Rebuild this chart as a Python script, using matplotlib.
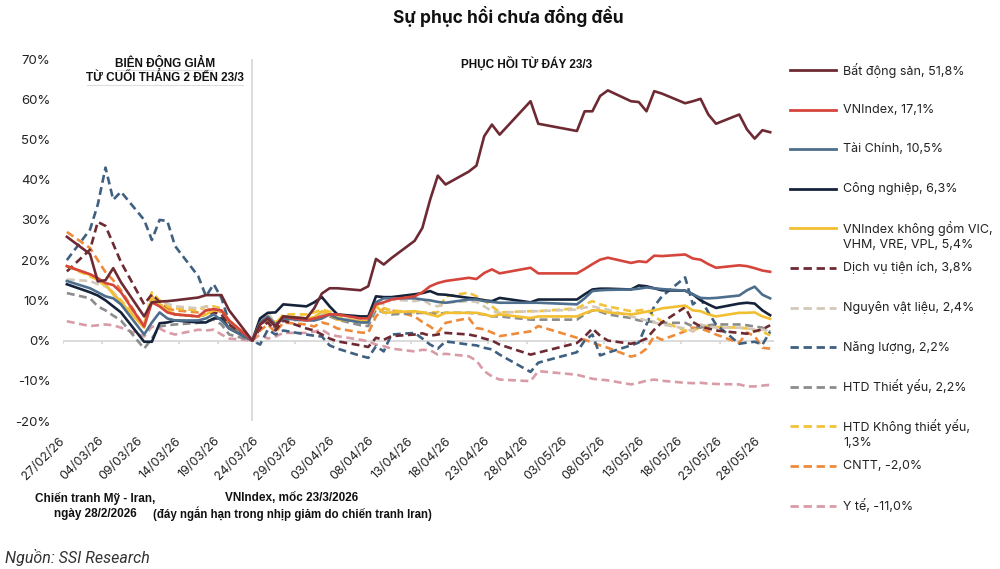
import matplotlib
matplotlib.use("Agg")
import matplotlib.pyplot as plt
import matplotlib.dates as mdates
import pandas as pd

plt.rcParams['font.family'] = ['Inter', 'DejaVu Sans']

# ngày giao dịch (năm 2026)
ngay = ["27/02", "02/03", "03/03", "04/03", "05/03", "06/03", "09/03", "10/03", "11/03", "12/03",
        "13/03", "16/03", "17/03", "18/03", "19/03", "20/03", "23/03",
        "24/03", "25/03", "26/03", "27/03", "30/03", "31/03", "01/04", "02/04", "03/04",
        "06/04", "07/04", "08/04", "09/04", "10/04", "13/04", "14/04", "15/04", "16/04", "17/04",
        "20/04", "21/04", "22/04", "23/04", "24/04", "28/04", "29/04",
        "04/05", "05/05", "06/05", "07/05", "08/05", "11/05", "12/05", "13/05", "14/05", "15/05",
        "18/05", "19/05", "20/05", "21/05", "22/05", "25/05", "26/05", "27/05", "28/05", "29/05"]

# % thay doi so voi moc 23/3/2026
bat_dong_san = [25.8, 21.5, 14.7, 15.0, 18.0, 14.5, 6.0, 9.5, 9.7, 9.8, 10.0, 10.7, 11.3, 11.3, 11.3, 7.5, 0.0,
                4.0, 5.5, 3.5, 6.0, 5.5, 8.0, 11.7, 13.0, 13.0, 12.5, 13.5, 20.3, 18.9, 20.5,
                24.8, 28.0, 35.0, 41.0, 38.8, 42.0, 43.5, 50.8, 53.7, 51.2, 59.5, 53.9,
                52.1, 57.0, 57.0, 60.8, 62.2, 59.5, 59.3, 57.0, 62.0, 61.4,
                59.0, 59.5, 60.1, 56.2, 53.9, 56.2, 52.5, 50.2, 52.3, 51.8]
vnindex = [18.5, 16.5, 15.5, 14.3, 13.8, 12.0, 3.5, 9.5, 8.5, 7.0, 6.5, 6.0, 7.5, 7.8, 7.5, 5.0, 0.0,
           4.0, 5.5, 3.5, 6.0, 5.0, 5.5, 6.0, 6.5, 6.5, 5.5, 5.5, 9.0, 9.5, 10.2,
           11.0, 12.0, 13.5, 14.3, 14.8, 15.6, 15.3, 16.8, 17.7, 16.7, 18.1, 16.7,
           16.7, 17.8, 19.0, 20.1, 20.6, 19.3, 19.7, 19.5, 21.1, 21.0,
           21.4, 20.4, 20.1, 19.0, 18.1, 18.7, 18.5, 18.0, 17.4, 17.1]
tai_chinh = [14.8, 13.0, 12.0, 11.0, 10.5, 9.0, 1.5, 4.5, 7.0, 5.5, 5.0, 5.0, 5.5, 6.5, 5.0, 3.0, 0.0,
             4.5, 6.0, 4.0, 5.5, 5.0, 5.0, 5.5, 6.5, 5.5, 4.5, 4.5, 9.5, 10.5, 10.5,
             10.5, 10.2, 10.0, 9.6, 9.4, 10.2, 10.2, 9.8, 9.6, 9.4, 9.4, 9.4,
             9.0, 10.5, 12.3, 12.5, 12.6, 12.7, 12.9, 13.2, 13.0, 12.8,
             12.4, 11.5, 10.6, 10.5, 10.6, 11.2, 12.5, 13.4, 11.4, 10.5]
cong_nghiep = [14.0, 12.0, 11.2, 10.0, 8.5, 7.0, -0.3, -0.3, 4.3, 4.5, 5.0, 4.5, 4.5, 5.5, 5.5, 3.0, 0.0,
               5.5, 6.9, 7.0, 9.0, 8.5, 9.5, 10.8, 8.5, 6.5, 6.0, 6.0, 11.0, 10.8, 10.8,
               11.5, 11.8, 12.3, 11.5, 11.4, 10.6, 10.4, 10.0, 9.8, 10.6, 9.5, 10.2,
               10.2, 11.5, 12.7, 12.9, 12.9, 12.7, 13.7, 13.5, 13.0, 12.5,
               12.4, 11.5, 10.0, 9.0, 8.1, 9.2, 9.4, 9.2, 7.5, 6.3]
vnindex_ex = [18.5, 16.3, 15.5, 14.0, 11.5, 9.5, 3.2, 10.5, 9.0, 7.5, 6.5, 6.0, 6.5, 7.5, 7.5, 5.0, 0.0,
              4.0, 5.6, 4.5, 6.0, 5.5, 5.8, 7.3, 6.5, 5.2, 4.8, 4.8, 8.5, 6.9, 7.0,
              7.3, 7.0, 6.5, 6.0, 6.9, 6.9, 6.9, 6.5, 6.0, 6.5, 5.6, 6.0,
              6.0, 6.8, 7.5, 7.5, 7.0, 6.5, 6.8, 7.2, 7.5, 8.0,
              8.7, 7.5, 7.3, 6.5, 6.0, 6.9, 6.9, 7.0, 6.0, 5.4]
dv_tien_ich = [17.2, 22.6, 29.5, 28.5, 24.0, 19.5, 9.0, 11.5, 9.5, 7.5, 6.5, 6.0, 6.5, 7.0, 6.5, 4.0, 0.0,
               3.0, 4.5, 2.5, 5.0, 3.0, 2.5, 1.5, 0.5, -0.2, -1.2, -1.6, 0.7, 0.2, 1.1,
               1.5, 1.8, 1.2, 1.5, 1.9, 1.5, 1.1, 0.5, 0.0, -1.0, -3.5, -3.0,
               -0.6, 1.0, 3.0, 1.2, 0.0, -0.8, -0.3, 0.5, 2.7, 4.5,
               8.3, 4.6, 3.5, 3.0, 2.5, 1.9, 1.7, 2.3, 2.8, 3.8]
nguyen_vat_lieu = [15.2, 14.8, 14.0, 13.5, 12.0, 9.5, 3.5, 10.2, 9.5, 9.2, 8.5, 8.0, 8.5, 8.0, 7.5, 4.5, 0.0,
                   5.0, 7.0, 4.0, 6.0, 5.5, 5.0, 6.5, 7.0, 5.5, 5.0, 4.5, 9.5, 9.0, 10.2,
                   9.8, 10.2, 9.0, 8.5, 9.4, 9.8, 9.6, 8.5, 7.3, 6.9, 7.3, 7.3,
                   7.7, 8.2, 8.5, 8.0, 7.7, 6.0, 5.5, 5.0, 4.5, 4.0,
                   3.0, 2.3, 4.0, 3.5, 3.2, 3.2, 3.0, 2.8, 2.7, 2.4]
nang_luong = [20.0, 27.6, 33.8, 43.0, 35.0, 37.0, 30.0, 25.0, 30.0, 29.7, 23.5, 16.0, 11.0, 14.0, 10.6, 4.5, 0.0,
              -1.0, 2.7, 1.5, 2.5, 1.5, 1.2, 1.0, -1.2, -2.0, -3.8, -4.3, -1.4, -2.7, 1.5,
              1.9, 0.5, -1.0, -2.0, -0.2, -1.0, -1.2, -1.8, -2.2, -3.5, -7.8, -5.5,
              -2.9, 0.0, 1.5, -3.7, -3.0, -1.2, -0.5, 4.0, 8.5, 11.0,
              15.7, 9.0, 10.5, 7.0, 4.0, -0.8, -0.5, -0.3, -1.0, 2.2]
htd_thiet_yeu = [11.8, 10.5, 8.5, 7.5, 6.2, 5.0, -2.0, 0.5, 3.5, 3.8, 4.0, 4.4, 4.8, 5.2, 4.0, 1.5, 0.0,
                 4.0, 5.0, 3.0, 5.0, 5.2, 5.5, 6.5, 6.0, 5.2, 3.8, 3.6, 7.7, 7.0, 6.5,
                 6.8, 6.9, 6.7, 6.6, 6.9, 6.9, 6.7, 6.5, 6.0, 6.0, 5.2, 5.2,
                 5.2, 6.5, 7.5, 7.2, 6.5, 5.6, 5.0, 4.8, 4.6, 4.4,
                 4.4, 3.5, 3.2, 3.8, 4.0, 4.0, 3.8, 3.5, 3.2, 2.2]
htd_khong_thiet_yeu = [18.5, 16.0, 15.0, 13.5, 12.0, 10.0, 4.0, 12.0, 10.0, 8.5, 8.0, 7.5, 8.5, 8.5, 8.0, 4.5, 0.0,
                       3.5, 6.0, 4.0, 6.5, 6.5, 7.0, 7.7, 7.2, 6.0, 4.6, 4.4, 9.0, 8.0, 7.5,
                       7.0, 6.9, 7.0, 7.0, 11.0, 11.9, 11.0, 10.0, 8.5, 7.0, 7.3, 7.3,
                       8.0, 9.0, 9.8, 9.0, 8.5, 7.3, 7.5, 7.7, 6.0, 4.8,
                       2.5, 2.3, 3.5, 3.6, 3.4, 3.2, 3.0, 2.5, 2.2, 1.3]
cntt = [27.0, 23.0, 20.0, 17.0, 15.0, 12.5, 3.5, 11.0, 9.0, 8.0, 7.5, 7.0, 7.5, 8.0, 7.0, 3.5, 0.0,
        2.5, 4.0, 2.0, 4.5, 4.0, 3.5, 4.5, 4.0, 3.0, 2.0, 1.9, 6.0, 8.0, 7.5,
        6.0, 4.6, 3.5, 2.0, 4.4, 5.6, 3.1, 2.8, 2.0, 1.1, 2.3, 3.6,
        0.7, 0.2, -0.5, -1.2, -1.8, -4.0, -3.5, -2.0, 1.1, 0.2,
        2.3, 3.2, 3.0, 2.3, 1.5, -0.6, 2.0, 1.1, -1.8, -2.0]
y_te = [4.8, 3.6, 3.8, 4.0, 3.8, 3.2, 1.0, 3.5, 3.0, 2.0, 1.5, 2.7, 2.5, 2.7, 1.5, 0.5, 0.0,
        1.5, 0.5, 1.0, 1.9, 1.9, 2.2, 2.7, 1.5, 1.1, 0.2, -0.2, -1.0, -1.4, -2.0,
        -2.7, -2.3, -2.4, -3.5, -3.3, -3.9, -5.0, -7.6, -8.9, -9.7, -10.1, -7.6,
        -8.5, -9.0, -9.5, -9.7, -9.9, -10.9, -10.5, -10.0, -9.7, -10.0,
        -10.5, -10.6, -10.5, -10.7, -10.8, -10.9, -11.4, -11.4, -11.2, -11.0]

nhan = ["Bất động sản, 51,8%", "VNIndex, 17,1%", "Tài Chính, 10,5%", "Công nghiệp, 6,3%",
        "VNIndex không gồm VIC,\nVHM, VRE, VPL, 5,4%", "Dịch vụ tiện ích, 3,8%",
        "Nguyên vật liệu, 2,4%", "Năng lượng, 2,2%", "HTD Thiết yếu, 2,2%",
        "HTD Không thiết yếu,\n1,3%", "CNTT, -2,0%", "Y tế, -11,0%"]
du_lieu = [bat_dong_san, vnindex, tai_chinh, cong_nghiep, vnindex_ex, dv_tien_ich,
           nguyen_vat_lieu, nang_luong, htd_thiet_yeu, htd_khong_thiet_yeu, cntt, y_te]
mau = ["#6E2A33", "#D5453B", "#4E6E8E", "#15233A", "#F2BF33", "#6E2A33",
       "#D4C9B8", "#3F6080", "#8C8C8C", "#F2C23A", "#EE8B3A", "#D99CA7"]
net_dut = [False, False, False, False, False, True, True, True, True, True, True, True]

dates = pd.to_datetime([d + "/2026" for d in ngay], format="%d/%m/%Y")
x = mdates.date2num(dates) + 0.5

fig = plt.figure(figsize=(10, 5.69), dpi=100)
ax = fig.add_axes([0.063, 1 - 421 / 569, 0.711, (421 - 59) / 569])

# ve duong net dut truoc, net lien len tren
thu_tu = [i for i in range(12) if net_dut[i]][::-1] + [i for i in range(12) if not net_dut[i]][::-1]
for i in thu_tu:
    if net_dut[i]:
        ax.plot(x, du_lieu[i], color=mau[i], lw=1.9, dashes=(3, 1.7), zorder=3)
    else:
        ax.plot(x, du_lieu[i], color=mau[i], lw=1.9, zorder=4)

ax.set_ylim(-20, 70)
ax.set_yticks(range(-20, 71, 10))
ax.set_yticklabels([f"{v}%" for v in range(-20, 71, 10)], fontsize=9.5, color="#222222")
ax.tick_params(axis="y", length=0, pad=9)

ax.set_xlim(mdates.date2num(pd.Timestamp("2026-02-27")), mdates.date2num(pd.Timestamp("2026-05-30")))
moc = pd.date_range("2026-02-27", "2026-05-28", freq="5D")
ax.set_xticks(mdates.date2num(moc))
ax.set_xticklabels(moc.strftime("%d/%m/%y"), rotation=45, ha="right", va="center",
                   rotation_mode="anchor", fontsize=9, color="#222222")
ax.tick_params(axis="x", length=0, pad=13)
for s in ax.spines.values():
    s.set_visible(False)

ax.axhline(0, color="#D9D9D9", lw=1.3, zorder=1)
ax.vlines(mdates.date2num(moc), -0.9, 0, color="#D9D9D9", lw=1.3, zorder=1)
ax.axvline(x[ngay.index("23/03")], color="#D9D9D9", lw=1.3, zorder=1)

# lop phu theo toa do pixel cho chu thich
ov = fig.add_axes([0, 0, 1, 1])
ov.set_xlim(0, 1000)
ov.set_ylim(569, 0)
ov.set_axis_off()

ov.text(508, 16, "Sự phục hồi chưa đồng đều", ha="center", va="center",
        fontsize=12.5, fontweight="bold", color="#111111")

hep = ["Liberation Sans Narrow", "Liberation Sans", "DejaVu Sans"]
ov.text(165, 63, "BIÊN ĐỘNG GIẢM", ha="center", va="center", fontsize=8.5,
        fontweight="bold", family=hep, color="#111111")
ov.text(165, 78, "TỪ CUỐI THÁNG 2 ĐẾN 23/3", ha="center", va="center", fontsize=8.5,
        fontweight="bold", family=hep, color="#111111")
ov.plot([117, 212], [70, 70], color="#DDDDDD", lw=0.8)
ov.plot([87, 243], [85, 85], color="#DDDDDD", lw=0.8)
ov.text(527, 64, "PHỤC HỒI TỪ ĐÁY 23/3", ha="center", va="center", fontsize=8.5,
        fontweight="bold", family=hep, color="#111111")

ov.text(95, 498, "Chiến tranh Mỹ - Iran,", ha="center", va="center", fontsize=8.5,
        fontweight="bold", family=hep, color="#111111")
ov.text(95, 514, "ngày 28/2/2026", ha="center", va="center", fontsize=8.5,
        fontweight="bold", family=hep, color="#111111")
ov.text(292, 498, "VNIndex, mốc 23/3/2026", ha="center", va="center", fontsize=8.5,
        fontweight="bold", family=hep, color="#111111")
ov.text(292, 514, "(đáy ngắn hạn trong nhịp giảm do chiến tranh Iran)", ha="center",
        va="center", fontsize=8.3, fontweight="bold", family=hep, color="#111111")

ov.text(5, 557, "Nguồn: SSI Research", ha="left", va="center", fontsize=11.5,
        style="italic", family=["Roboto", "DejaVu Sans"], color="#333333")

# chu giai
for i in range(12):
    yy = 70 + 39.6 * i
    if net_dut[i]:
        ov.plot([790, 836], [yy, yy], color=mau[i], lw=2, dashes=(3, 1.7))
    else:
        ov.plot([790, 836], [yy, yy], color=mau[i], lw=2)
    for j, dong in enumerate(nhan[i].split("\n")):
        ov.text(843, yy + 17 * j, dong, ha="left", va="center", fontsize=9, color="#222222")

fig.savefig("out.png", dpi=100)
